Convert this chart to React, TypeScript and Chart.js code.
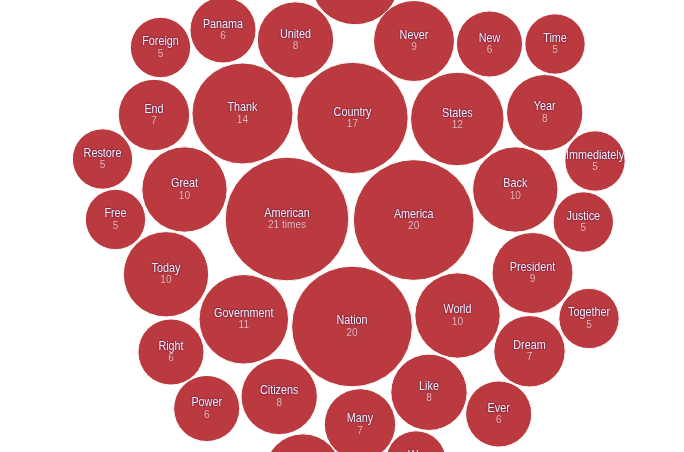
import React, { useEffect, useRef } from "react";
import { Chart, registerables } from "chart.js";

Chart.register(...registerables);

const words = [
  "Will", "Foreign", "Panama", "United", "Never", "New", "Time",
  "End", "Thank", "Country", "States", "Year",
  "Restore", "Immediately", "Great", "Back", "Free",
  "American", "America", "Justice", "Today", "President",
  "Government", "World", "Nation", "Together", "Right", "Dream",
  "Citizens", "Like", "Power", "Ever", "Many", "Peace", "We",
];
const counts = [
  11, 5, 6, 8, 9, 6, 5,
  7, 14, 17, 12, 8,
  5, 5, 10, 10, 5,
  21, 20, 5, 10, 9,
  11, 10, 20, 5, 6, 7,
  8, 8, 6, 6, 7, 8, 5,
];
// layout positions of the packed circles (in chart units)
const posX = [
  355, 160.5, 223, 295.5, 414, 489.5, 555,
  154, 242.5, 352.5, 457.3, 544.7,
  102.5, 595, 184.5, 515.3, 115.5,
  287, 413.7, 583.3, 166, 532.5,
  243.8, 457.5, 352, 589, 171, 529.5,
  279.2, 429, 206.7, 498.7, 360, 303, 416,
];
const posY = [
  -20, 47.5, 30, 40, 41, 44, 44,
  115, 113.5, 118, 119, 112.7,
  159, 161, 189.5, 189.5, 219.5,
  219, 220, 222, 274.3, 273,
  319.3, 315.5, 326.5, 318.5, 352, 351.3,
  396.5, 392.3, 408.5, 414, 424.4, 472, 461,
];

const RADIUS_K = 13.5;
const FILL = "#ba3a3f";
const FONT_FAMILY = "'Liberation Sans', Arial, sans-serif";

const labelPlugin = {
  id: "bubbleLabels",
  afterDatasetsDraw(chart: any) {
    const ctx = chart.ctx;
    const area = chart.chartArea;
    const meta = chart.getDatasetMeta(0);
    ctx.save();
    ctx.beginPath();
    ctx.rect(area.left, area.top, area.right - area.left, area.bottom - area.top);
    ctx.clip();
    ctx.textAlign = "center";
    ctx.textBaseline = "middle";
    meta.data.forEach((el: any, i: number) => {
      const { x, y } = el.getProps(["x", "y"], true);
      ctx.save();
      ctx.translate(x, y);
      ctx.scale(0.8, 1);
      ctx.shadowColor = "rgba(45,0,50,0.95)";
      ctx.shadowBlur = 2;
      ctx.shadowOffsetX = 0;
      ctx.shadowOffsetY = 0;
      ctx.font = `13.5px ${FONT_FAMILY}`;
      ctx.fillStyle = "#f4eeff";
      ctx.fillText(words[i], 0, -6);
      ctx.restore();
      ctx.save();
      ctx.translate(x, y);
      ctx.scale(0.88, 1);
      ctx.shadowBlur = 1;
      ctx.shadowColor = "rgba(80,0,30,0.5)";
      ctx.font = `11.5px ${FONT_FAMILY}`;
      ctx.fillStyle = "#eabac2";
      const num = i === 17 ? `${counts[i]} times` : `${counts[i]}`;
      ctx.fillText(num, 0, 6);
      ctx.restore();
    });
    ctx.restore();
  },
};

export default function App() {
  const ref = useRef<HTMLCanvasElement>(null);
  useEffect(() => {
    if (!ref.current) return;
    const data = words.map((w, i) => ({
      x: posX[i],
      y: posY[i],
      r: RADIUS_K * Math.sqrt(counts[i]),
    }));
    const chart = new Chart(ref.current, {
      type: "bubble",
      data: {
        datasets: [
          {
            data,
            backgroundColor: FILL,
            borderColor: "#ffffff",
            borderWidth: 1,
            hoverBackgroundColor: FILL,
            hoverBorderColor: "#ffffff",
          },
        ],
      },
      options: {
        responsive: false,
        animation: false,
        events: [],
        layout: { padding: 0, autoPadding: false },
        plugins: {
          legend: { display: false },
          tooltip: { enabled: false },
        },
        scales: {
          x: { type: "linear", min: 0, max: 684, display: false },
          y: { type: "linear", min: 0, max: 452, reverse: true, display: false },
        },
      },
      plugins: [labelPlugin],
    });
    return () => chart.destroy();
  }, []);
  return (
    <div style={{ position: "fixed", left: 0, top: 0, width: 684, height: 452, background: "#fff" }}>
      <canvas ref={ref} width={684} height={452} style={{ display: "block" }} />
    </div>
  );
}
